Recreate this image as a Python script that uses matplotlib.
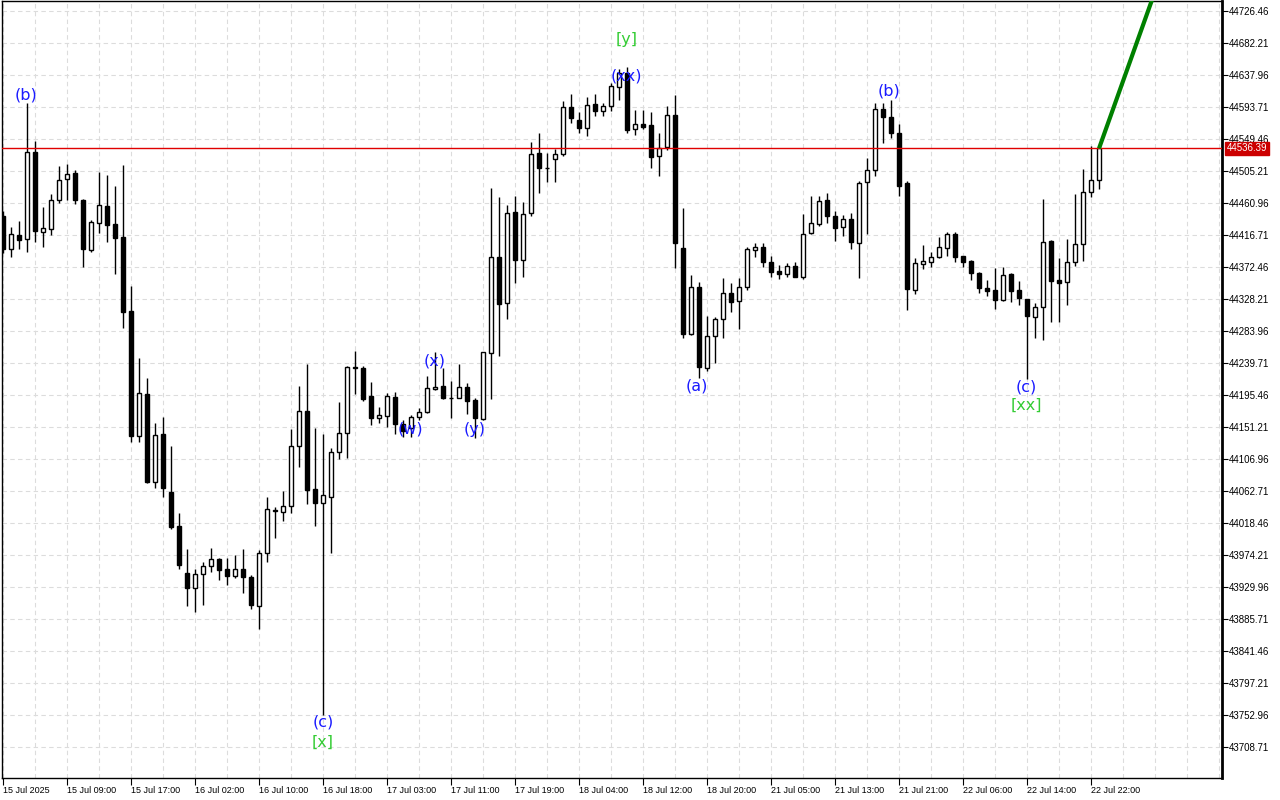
import matplotlib
matplotlib.use("Agg")
import matplotlib.pyplot as plt
import numpy as np

# ---------------- data ----------------
opens = [44443.0, 44397.8, 44416.7, 44410.5, 44531.1, 44421.5, 44425.3, 44465.8, 44493.5, 44502.4,
         44465.2, 44396.2, 44432.9, 44456.3, 44431.5, 44413.4, 44311.1, 44139.0, 44196.3, 44074.7,
         44141.4, 44061.5, 44013.9, 43950.0, 43929.0, 43948.6, 43959.6, 43968.7, 43954.9, 43945.6,
         43954.9, 43943.5, 43904.1, 43976.6, 44034.4, 44034.1, 44042.4, 44124.5, 44173.3, 44065.5,
         44046.5, 44054.8, 44117.0, 44142.5, 44232.8, 44232.4, 44194.1, 44164.1, 44166.9, 44192.3,
         44155.0, 44149.4, 44164.6, 44171.5, 44204.2, 44207.9, 44192.0, 44191.7, 44206.1, 44188.5,
         44161.9, 44253.1, 44386.7, 44322.3, 44448.1, 44382.1, 44446.7, 44529.7, 44510.0, 44521.4,
         44528.3, 44593.3, 44575.7, 44564.2, 44597.9, 44588.2, 44595.1, 44621.0, 44641.1, 44562.9,
         44570.2, 44568.8, 44525.9, 44538.8, 44582.6, 44398.3, 44279.4, 44344.4, 44232.4, 44277.5,
         44300.1, 44336.1, 44325.4, 44345.2, 44396.0, 44399.7, 44379.0, 44366.9, 44362.4, 44373.8,
         44359.0, 44419.1, 44431.5, 44465.1, 44443.0, 44427.4, 44438.4, 44405.2, 44489.6, 44506.6,
         44590.5, 44579.5, 44557.3, 44488.2, 44340.7, 44376.2, 44379.0, 44386.7, 44398.3, 44417.7,
         44387.7, 44380.8, 44364.6, 44343.0, 44340.7, 44326.8, 44362.8, 44340.7, 44327.8, 44303.7,
         44316.7, 44408.4, 44354.5, 44351.3, 44379.0, 44403.8, 44475.7, 44492.8]
highs = [44449.9, 44427.2, 44435.8, 44598.7, 44546.7, 44454.9, 44473.0, 44512.0, 44514.3, 44506.3,
         44466.0, 44438.1, 44503.8, 44499.1, 44484.3, 44513.4, 44346.2, 44246.6, 44219.1, 44156.2,
         44164.4, 44124.8, 44031.9, 43982.4, 43954.7, 43964.3, 43983.3, 43969.7, 43969.7, 43974.2,
         43982.1, 43946.6, 43981.1, 44054.0, 44041.0, 44062.7, 44148.4, 44207.9, 44238.3, 44150.2,
         44141.1, 44121.7, 44186.2, 44235.6, 44256.3, 44235.6, 44213.0, 44178.5, 44197.8, 44199.2,
         44160.9, 44167.8, 44177.1, 44221.7, 44255.3, 44232.4, 44214.8, 44238.3, 44212.5, 44190.9,
         44255.3, 44482.1, 44469.7, 44458.2, 44471.0, 44461.9, 44544.9, 44557.3, 44529.7, 44535.6,
         44602.0, 44611.3, 44587.2, 44607.1, 44611.7, 44598.8, 44626.5, 44645.8, 44649.4, 44589.6,
         44589.6, 44586.4, 44557.3, 44595.1, 44610.3, 44453.6, 44361.4, 44351.3, 44305.1, 44303.7,
         44356.8, 44349.9, 44356.8, 44400.5, 44406.1, 44406.1, 44387.7, 44375.2, 44377.6, 44379.0,
         44445.7, 44471.0, 44471.0, 44474.4, 44449.9, 44444.4, 44446.7, 44491.4, 44522.8, 44598.8,
         44598.8, 44603.4, 44569.8, 44491.4, 44384.5, 44402.9, 44393.6, 44414.4, 44420.4, 44420.4,
         44388.1, 44382.1, 44366.0, 44354.5, 44370.7, 44372.9, 44363.5, 44353.1, 44328.5, 44322.3,
         44466.5, 44409.8, 44384.5, 44410.8, 44473.4, 44508.0, 44539.8, 44539.8]
lows = [44391.8, 44386.7, 44397.8, 44392.9, 44407.2, 44400.1, 44416.7, 44461.0, 44465.2, 44459.6,
        44372.5, 44392.9, 44420.0, 44407.2, 44363.3, 44288.1, 44131.0, 44131.0, 44074.0, 44066.7,
        44054.8, 44009.5, 43954.7, 43903.3, 43895.3, 43904.8, 43951.0, 43939.6, 43932.7, 43942.9,
        43922.1, 43899.5, 43871.9, 43965.0, 43998.1, 44021.6, 44032.7, 44096.3, 44044.7, 44014.3,
        43753.0, 43977.4, 44107.0, 44107.9, 44196.8, 44187.2, 44154.0, 44156.3, 44151.6, 44141.5,
        44137.4, 44137.0, 44160.9, 44170.2, 44202.4, 44189.9, 44164.1, 44190.9, 44168.8, 44135.6,
        44160.9, 44189.5, 44249.4, 44300.1, 44349.9, 44359.0, 44443.4, 44474.4, 44489.6, 44490.4,
        44525.9, 44572.0, 44557.3, 44554.0, 44581.3, 44581.7, 44588.2, 44603.4, 44557.3, 44555.0,
        44562.9, 44508.9, 44498.7, 44534.2, 44370.7, 44273.9, 44278.0, 44219.4, 44229.1, 44239.3,
        44273.9, 44310.6, 44286.3, 44340.7, 44386.7, 44372.9, 44358.2, 44355.9, 44359.0, 44358.2,
        44355.9, 44418.0, 44429.6, 44433.7, 44408.8, 44415.7, 44396.9, 44357.7, 44417.7, 44498.7,
        44543.5, 44550.4, 44471.0, 44313.0, 44334.7, 44369.7, 44372.9, 44385.3, 44387.7, 44379.0,
        44372.9, 44354.5, 44337.0, 44332.8, 44314.0, 44325.4, 44323.7, 44319.9, 44217.6, 44274.7,
        44271.5, 44296.8, 44296.8, 44319.9, 44373.8, 44380.8, 44469.7, 44480.3]
closes = [44397.8, 44417.7, 44409.5, 44531.1, 44422.9, 44425.8, 44465.8, 44492.5, 44501.1, 44465.8,
          44397.8, 44434.4, 44457.6, 44431.1, 44413.0, 44310.5, 44139.0, 44197.7, 44075.7, 44140.0,
          44066.7, 44012.9, 43960.5, 43929.0, 43947.7, 43959.6, 43968.4, 43953.5, 43945.6, 43954.5,
          43944.3, 43905.1, 43976.6, 44037.4, 44035.8, 44042.0, 44124.5, 44173.3, 44064.1, 44046.5,
          44057.2, 44116.2, 44142.5, 44233.8, 44233.5, 44189.9, 44163.3, 44167.4, 44194.1, 44155.0,
          44146.1, 44164.6, 44171.5, 44204.7, 44206.9, 44190.9, 44191.3, 44206.1, 44187.2, 44163.3,
          44254.5, 44386.7, 44320.9, 44446.7, 44382.1, 44445.3, 44528.3, 44508.9, 44509.4, 44528.3,
          44594.1, 44578.1, 44564.2, 44596.5, 44588.2, 44595.5, 44622.8, 44641.1, 44561.9, 44570.2,
          44566.5, 44524.2, 44537.4, 44582.6, 44406.1, 44279.4, 44344.4, 44233.8, 44277.1, 44300.6,
          44336.1, 44323.7, 44345.2, 44396.9, 44399.7, 44379.8, 44366.0, 44362.4, 44374.3, 44359.0,
          44417.7, 44432.9, 44464.1, 44443.0, 44426.0, 44438.4, 44406.6, 44488.2, 44506.6, 44590.5,
          44579.5, 44557.3, 44484.9, 44341.6, 44377.6, 44380.8, 44386.7, 44399.7, 44417.7, 44386.7,
          44379.8, 44364.6, 44343.0, 44339.7, 44326.8, 44361.4, 44339.7, 44330.0, 44305.1, 44317.6,
          44406.6, 44353.5, 44349.9, 44379.8, 44403.8, 44475.7, 44492.8, 44536.39]

time_labels = ["15 Jul 2025", "15 Jul 09:00", "15 Jul 17:00", "16 Jul 02:00", "16 Jul 10:00",
               "16 Jul 18:00", "17 Jul 03:00", "17 Jul 11:00", "17 Jul 19:00", "18 Jul 04:00",
               "18 Jul 12:00", "18 Jul 20:00", "21 Jul 05:00", "21 Jul 13:00", "21 Jul 21:00",
               "22 Jul 06:00", "22 Jul 14:00", "22 Jul 22:00"]
label_every = 8

price_ticks = [44726.46, 44682.21, 44637.96, 44593.71, 44549.46, 44505.21, 44460.96, 44416.71,
               44372.46, 44328.21, 44283.96, 44239.71, 44195.46, 44151.21, 44106.96, 44062.71,
               44018.46, 43974.21, 43929.96, 43885.71, 43841.46, 43797.21, 43752.96, 43708.71]

current_price = 44536.39

forecast_x = [137, 145]
forecast_y = [44536.39, 44784.4]

# wave labels: (bar position, price, text, colour)
wave_labels = [
    (2.9, 44610.3, "(b)", "blue"),
    (40.0, 43743.3, "(c)", "blue"),
    (40.0, 43715.6, "[x]", "green"),
    (50.9, 44148.4, "(w)", "blue"),
    (53.9, 44241.8, "(x)", "blue"),
    (59.0, 44148.4, "(y)", "blue"),
    (78.0, 44686.4, "[y]", "green"),
    (77.9, 44636.0, "(xx)", "blue"),
    (86.75, 44207.9, "(a)", "blue"),
    (110.75, 44615.8, "(b)", "blue"),
    (127.9, 44206.5, "(c)", "blue"),
    (127.9, 44181.6, "[xx]", "green"),
]
colour_map = {"blue": "#1a1aff", "green": "#33cc33"}

# ---------------- figure ----------------
W, H = 1280, 800
fig = plt.figure(figsize=(W / 100, H / 100), dpi=100)
ax = fig.add_axes([2 / W, 1 - 778 / H, 1220 / W, 777 / H])

ax.set_xlim(-0.125, 152.375)
ax.set_ylim(43665.84, 44740.29)

n = len(opens)
x = np.arange(n)
o = np.array(opens); h = np.array(highs); l = np.array(lows); c = np.array(closes)
up = c >= o

# grid
for gx in range(0, 153, 4):
    ax.axvline(gx, color="#dcdcdc", lw=0.8, ls=(0, (4, 3)), zorder=0)
for p in price_ticks:
    ax.axhline(p, color="#dcdcdc", lw=0.8, ls=(0, (4, 3)), zorder=0)

# wicks
ax.vlines(x, l, h, color="black", lw=1.0, zorder=2)
# bodies
bottoms = np.minimum(o, c)
heights = np.maximum(np.abs(c - o), 0.6)
ax.bar(x, heights, bottom=bottoms, width=0.6,
       color=np.where(up, "white", "black"), edgecolor="black", linewidth=1.0, zorder=3)

# current price line
ax.axhline(current_price, color="#e00000", lw=1.0, zorder=4)
ax.annotate(f"{current_price:.2f}", xy=(1.0, current_price), xycoords=("axes fraction", "data"),
            xytext=(3.5, 0), textcoords="offset points", va="center", ha="left",
            fontsize=7, family="Liberation Sans", color="white",
            bbox=dict(boxstyle="square,pad=0.2", fc="#cc0000", ec="#cc0000"),
            annotation_clip=False, zorder=10)

# forecast line
ax.plot(forecast_x, forecast_y, color="#008000", lw=3, solid_capstyle="butt", zorder=5)

# wave labels
for bx, py, txt, col in wave_labels:
    ax.text(bx, py, txt, color=colour_map[col], fontsize=11.5, ha="center", va="center",
            family="DejaVu Sans", zorder=6)

# axes styling
ax.yaxis.tick_right()
ax.set_yticks(price_ticks)
ax.set_yticklabels([f"{p:.2f}" for p in price_ticks], fontsize=7, family="Liberation Sans")
ax.tick_params(axis="y", direction="out", length=4, width=0.8, pad=1, colors="black")

xt = list(range(0, label_every * len(time_labels), label_every))
ax.set_xticks(xt)
ax.set_xticklabels(time_labels, fontsize=6.5, family="Liberation Sans", ha="left")
ax.tick_params(axis="x", direction="out", length=5, width=0.8, pad=1)
for lab in ax.get_xticklabels():
    lab.set_horizontalalignment("left")

for s in ["left", "top", "bottom"]:
    ax.spines[s].set_linewidth(1.0)
    ax.spines[s].set_color("black")
ax.spines["right"].set_linewidth(2.0)

fig.savefig("out.png", dpi=100, facecolor="white")
